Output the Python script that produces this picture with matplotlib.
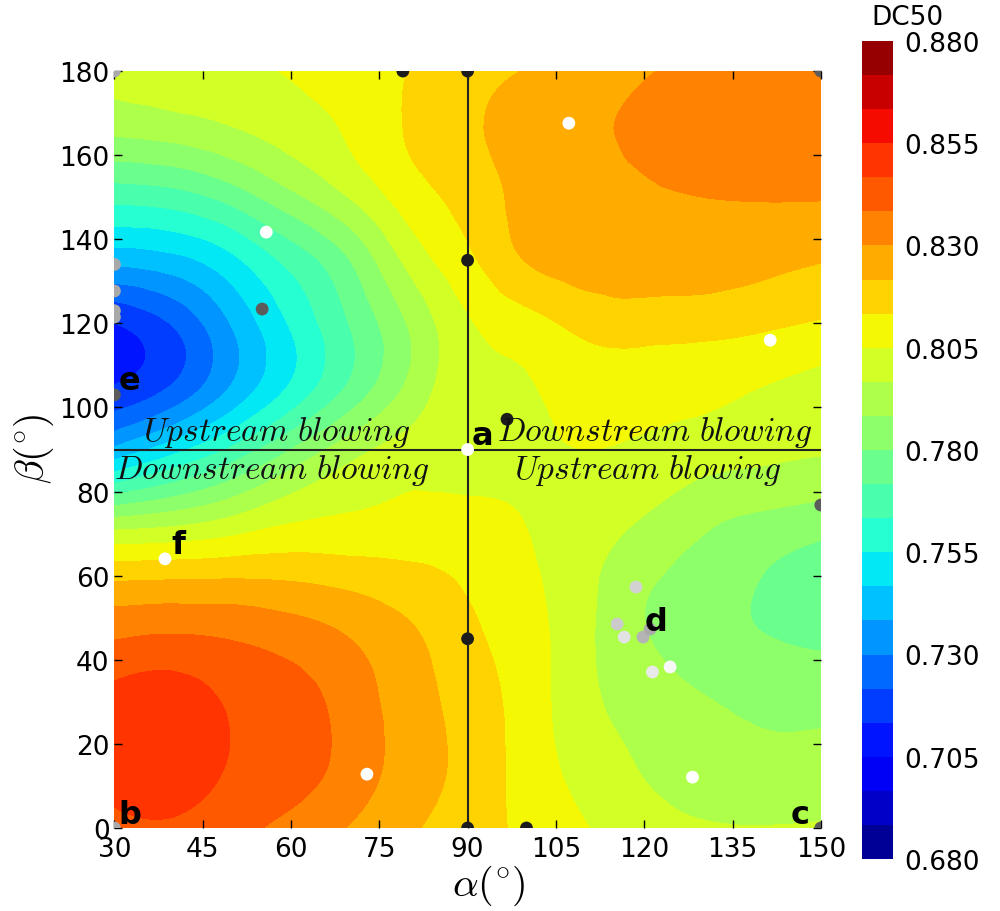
import numpy as np
import matplotlib
matplotlib.use('Agg')
import matplotlib.pyplot as plt
import matplotlib.tri as mtri

plt.rcParams['mathtext.fontset'] = 'cm'
plt.rcParams['font.family'] = 'DejaVu Sans'

# DC50 values, rows = beta, columns = alpha
alpha_nodes = [30, 40, 50, 60, 70, 80, 90, 100, 110, 120, 130, 140, 150]
beta_nodes = [0, 15, 30, 45, 60, 75, 90, 105, 120, 135, 150, 165, 180]
dc50 = [
    [0.8435, 0.8450, 0.8415, 0.8355, 0.8295, 0.8230, 0.8170, 0.8115, 0.8055, 0.8000, 0.7975, 0.7970, 0.7975],
    [0.8515, 0.8525, 0.8460, 0.8425, 0.8350, 0.8265, 0.8190, 0.8100, 0.8015, 0.7960, 0.7925, 0.7905, 0.7910],
    [0.8500, 0.8515, 0.8455, 0.8420, 0.8345, 0.8260, 0.8180, 0.8095, 0.7990, 0.7930, 0.7890, 0.7865, 0.7860],
    [0.8380, 0.8395, 0.8380, 0.8350, 0.8300, 0.8235, 0.8155, 0.8085, 0.7985, 0.7890, 0.7840, 0.7805, 0.7785],
    [0.8195, 0.8200, 0.8205, 0.8200, 0.8180, 0.8155, 0.8120, 0.8065, 0.7990, 0.7900, 0.7855, 0.7800, 0.7760],
    [0.7850, 0.7890, 0.7950, 0.8020, 0.8050, 0.8070, 0.8070, 0.8045, 0.8010, 0.7970, 0.7910, 0.7880, 0.7855],
    [0.7400, 0.7520, 0.7650, 0.7800, 0.7930, 0.8000, 0.8010, 0.8030, 0.8050, 0.8035, 0.8010, 0.7990, 0.7975],
    [0.7138, 0.7225, 0.7390, 0.7560, 0.7730, 0.7900, 0.8020, 0.8045, 0.8085, 0.8090, 0.8075, 0.8050, 0.8025],
    [0.7133, 0.7225, 0.7390, 0.7560, 0.7720, 0.7890, 0.8040, 0.8100, 0.8160, 0.8170, 0.8165, 0.8150, 0.8125],
    [0.7410, 0.7440, 0.7530, 0.7660, 0.7800, 0.7990, 0.8115, 0.8220, 0.8255, 0.8265, 0.8260, 0.8240, 0.8220],
    [0.7660, 0.7680, 0.7750, 0.7860, 0.7970, 0.8090, 0.8165, 0.8245, 0.8275, 0.8290, 0.8300, 0.8305, 0.8305],
    [0.7890, 0.7910, 0.7950, 0.8000, 0.8060, 0.8140, 0.8200, 0.8255, 0.8285, 0.8320, 0.8350, 0.8360, 0.8360],
    [0.8000, 0.8020, 0.8035, 0.8055, 0.8090, 0.8135, 0.8185, 0.8220, 0.8250, 0.8290, 0.8330, 0.8350, 0.8360],
]

# sampled configurations (alpha, beta, grey shade)
pt_alpha = [90, 90, 90, 90, 96.7, 100, 79,
            55.1, 150, 150, 150, 30,
            30, 30, 30, 30, 30, 30,
            55.8, 107.2, 141.4, 90, 38.6, 72.9, 128.2,
            118.6, 115.4, 116.6, 119.8, 121.0, 121.4, 124.4]
pt_beta = [180, 135, 45, 0, 97.2, 0, 180,
           123.4, 180, 76.8, 0, 103,
           180, 134, 127.7, 123, 121.5, 0,
           141.7, 167.6, 116, 90, 64, 12.8, 12.1,
           57.3, 48.5, 45.4, 45.4, 47.3, 37.1, 38.3]
pt_color = ['#1c1c1c'] * 7 + ['#5c5c5c'] * 5 + ['#a9a9a9'] * 6 + ['#ffffff'] * 7 + \
           ['#d2d2d2', '#cbcbcb', '#e2e2e2', '#b4b4b4', '#ababab', '#e9e9e9', '#f8f8f8']

point_tags = ['a', 'b', 'c', 'd', 'e', 'f']
tag_alpha = [92.6, 32.6, 146.5, 122.0, 32.6, 40.8]
tag_beta = [93.4, 3.3, 3.3, 49.2, 106.3, 67.5]

levels = np.linspace(0.68, 0.88, 25)
cbar_ticks = [0.680, 0.705, 0.730, 0.755, 0.780, 0.805, 0.830, 0.855, 0.880]

A, B = np.meshgrid(alpha_nodes, beta_nodes)
Z = np.array(dc50)
na, nb = len(alpha_nodes), len(beta_nodes)
tris = []
for j in range(nb - 1):
    for i in range(na - 1):
        k = j * na + i
        tris.append([k, k + 1, k + na + 1])
        tris.append([k, k + na + 1, k + na])
tri = mtri.Triangulation(A.ravel(), B.ravel(), tris)
interp = mtri.CubicTriInterpolator(tri, Z.ravel(), kind='min_E')
refiner = mtri.UniformTriRefiner(tri)
tri_f, z_f = refiner.refine_field(Z.ravel(), triinterpolator=interp, subdiv=5)

fig = plt.figure(figsize=(10, 9.12), dpi=100)
ax = fig.add_axes([0.1144, 0.091, 0.7064, 0.830])
cax = fig.add_axes([0.862, 0.057, 0.031, 0.897])

cf = ax.tricontourf(tri_f, z_f, levels=levels, cmap='jet', vmin=0.68, vmax=0.88)

ax.plot([90, 90], [0, 180], color='#222222', lw=1.5, zorder=3)
ax.plot([30, 150], [90, 90], color='#222222', lw=1.5, zorder=3)

ax.scatter(pt_alpha, pt_beta, s=85, c=pt_color, edgecolors='none', zorder=4)

for t, x, y in zip(point_tags, tag_alpha, tag_beta):
    ax.text(x, y, t, fontsize=23, fontweight='bold', ha='center', va='center', zorder=5)

kw = dict(fontsize=24, ha='center', va='center', zorder=5, color='#111111')
ax.text(57.6, 94.3, r'$Upstream\ blowing$', **kw)
ax.text(56.8, 85.2, r'$Downstream\ blowing$', **kw)
ax.text(121.8, 94.3, r'$Downstream\ blowing$', **kw)
ax.text(120.7, 85.2, r'$Upstream\ blowing$', **kw)

ax.set_xlim(30, 150)
ax.set_ylim(0, 180)
ax.set_xticks(range(30, 151, 15))
ax.set_yticks(range(0, 181, 20))
ax.tick_params(direction='in', top=True, right=True, labelsize=19, length=6, width=1)
ax.tick_params(axis='x', pad=6)
for s in ax.spines.values():
    s.set_visible(False)
ax.set_xlabel(r'$\alpha(^{\circ})$', fontsize=29)
ax.xaxis.set_label_coords(0.53, -0.046)
ax.set_ylabel(r'$\beta(^{\circ})$', fontsize=29)
ax.yaxis.set_label_coords(-0.083, 0.503)

cb = fig.colorbar(cf, cax=cax, ticks=cbar_ticks, format='%.3f')
cb.outline.set_visible(False)
cb.ax.tick_params(labelsize=19, length=0, pad=8)
fig.text(0.907, 0.980, 'DC50', fontsize=19, ha='center', va='center')

fig.savefig('out.png', dpi=100)
